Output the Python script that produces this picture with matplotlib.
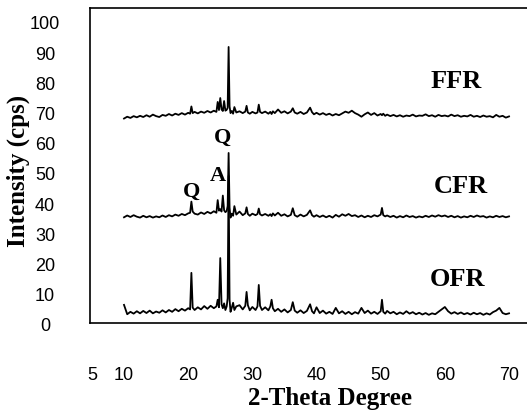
import matplotlib
matplotlib.use("Agg")
import matplotlib.pyplot as plt
import matplotlib.transforms as mtransforms

# 2-theta sampling (degrees), shared by the three patterns
two_theta = [
    10.0, 10.5, 11.0, 11.5, 12.0, 12.5, 13.0, 13.5, 14.0, 14.5, 15.0, 15.5, 16.0, 16.5,
    17.0, 17.5, 18.0, 18.5, 19.0, 19.5, 20.0,
    20.3, 20.5, 20.7, 21.0, 21.5, 22.0, 22.5, 23.0, 23.5, 24.0, 24.4, 24.6, 24.8, 25.0,
    25.2, 25.4, 25.6, 25.8, 26.0, 26.15, 26.3, 26.45, 26.6, 26.8, 27.0, 27.2, 27.5, 28.0,
    28.5, 28.9, 29.1, 29.3, 29.6, 30.0, 30.5, 30.8, 31.0, 31.2, 31.5, 32.0,
    32.5, 32.8, 33.0, 33.2, 33.5, 34.0, 34.5, 35.0, 35.5, 36.0, 36.3, 36.6, 37.0, 37.5,
    38.0, 38.5, 39.0, 39.3, 39.6, 40.0,
    40.5, 41.0, 41.5, 42.0, 42.5, 43.0, 43.5, 44.0, 44.5, 45.0, 45.5, 46.0, 46.5, 47.0,
    47.5, 48.0, 48.5, 49.0, 49.5, 50.0, 50.2, 50.4, 50.7,
    51.0, 51.5, 52.0, 52.5, 53.0, 53.5, 54.0, 54.5, 55.0, 55.5, 56.0, 56.5, 57.0, 57.5,
    58.0, 58.5, 59.0, 59.5, 60.0, 60.5, 61.0, 61.5, 62.0, 62.5, 63.0, 63.5, 64.0, 64.5,
    65.0, 65.5, 66.0, 66.5, 67.0, 67.5, 68.0, 68.5, 69.0, 69.5, 70.0,
]

# intensities (cps)
ffr = [
    69.0, 69.6, 69.2, 69.8, 69.4, 69.9, 69.5, 70.1, 69.6, 70.3, 69.8, 69.5, 70.2, 69.9,
    70.5, 70.0, 70.6, 70.2, 70.8, 70.3, 70.9,
    70.6, 73.0, 70.8, 71.2, 70.7, 71.3, 70.9, 71.5, 71.0, 71.6, 71.2, 74.5, 71.8, 75.8,
    72.0, 71.5, 74.8, 71.6, 71.9, 72.5, 92.7, 73.0, 70.8, 71.5, 70.6, 72.8, 71.0, 71.4,
    70.8, 71.3, 73.2, 71.0, 70.6, 71.2, 70.7, 71.0, 73.6, 71.2, 70.8, 71.3,
    70.6, 71.2, 70.5, 71.4, 70.8, 72.0, 70.9, 71.4, 70.7, 71.3, 72.4, 71.0, 70.6, 71.2,
    70.5, 71.0, 72.6, 71.1, 70.4, 70.9,
    70.3, 70.8, 70.2, 70.6, 70.0, 70.5, 70.1, 70.7, 71.3, 70.9, 71.6, 70.8, 70.3, 69.6,
    70.4, 71.0, 70.2, 70.8, 70.0, 70.5, 70.1, 70.6, 69.9,
    70.3, 69.8, 70.2, 69.7, 70.1, 69.6, 70.0, 69.8, 70.3, 69.7, 70.0, 69.9, 70.4, 69.8,
    70.1, 69.6, 70.2, 69.8, 70.0, 69.7, 70.3, 69.8, 70.1, 69.6, 69.9, 69.7, 70.2, 69.6,
    69.9, 69.5, 70.0, 69.6, 69.8, 69.4, 70.2, 69.6, 69.9, 69.3, 69.7,
]

cfr = [
    36.3, 36.9, 36.4, 37.0, 36.5, 36.2, 36.8, 36.3, 36.7, 36.2, 36.6, 36.3, 36.9, 36.4,
    37.0, 36.6, 37.2, 36.8, 37.4, 37.0, 37.6,
    37.8, 41.5, 38.2, 37.5, 37.2, 37.9, 37.4, 38.1, 37.6, 38.3, 37.8, 42.0, 38.5, 39.0,
    38.2, 43.5, 38.6, 38.0, 38.4, 40.0, 57.6, 39.5, 36.2, 37.5, 36.8, 40.0, 37.2, 38.2,
    37.0, 37.6, 39.6, 37.4, 36.8, 37.5, 37.0, 37.4, 39.2, 37.3, 36.9, 37.4,
    36.8, 37.3, 36.7, 37.6, 36.9, 37.8, 36.8, 37.3, 36.6, 37.1, 39.3, 37.0, 36.5, 37.2,
    36.6, 37.1, 38.6, 37.0, 36.5, 37.0,
    36.4, 36.9, 36.3, 36.8, 36.2, 37.1, 36.5, 37.3, 36.8, 37.4, 36.7, 37.0, 36.4, 36.9,
    36.3, 36.8, 36.4, 37.0, 36.6, 37.2, 39.4, 37.0, 36.6,
    36.9, 36.4, 36.8, 36.2, 36.7, 36.3, 36.9, 36.4, 36.7, 36.2, 36.6, 36.3, 36.8, 36.4,
    36.9, 36.5, 37.0, 36.6, 36.9, 36.4, 36.8, 36.3, 36.7, 36.2, 36.6, 36.3, 36.8, 36.4,
    36.9, 36.5, 36.7, 36.2, 36.6, 36.3, 36.8, 36.4, 36.7, 36.3, 36.6,
]

ofr = [
    7.3, 4.2, 5.0, 4.4, 5.2, 4.5, 5.3, 4.6, 5.4, 4.5, 5.1, 4.7, 5.5, 4.8,
    5.6, 5.0, 5.9, 5.2, 6.0, 5.4, 6.2,
    5.8, 17.9, 6.4, 5.6, 6.5, 5.8, 6.9, 6.0, 7.0, 6.2, 6.8, 9.0, 6.5, 22.8,
    7.5, 6.2, 7.8, 5.6, 6.8, 9.5, 50.0, 9.0, 5.0, 6.4, 8.0, 5.6, 6.8, 7.2,
    5.8, 7.0, 11.6, 7.2, 5.5, 6.6, 5.6, 6.8, 13.9, 7.0, 5.6, 6.5,
    5.5, 6.8, 9.0, 6.2, 5.2, 6.0, 5.0, 5.8, 4.8, 5.6, 8.2, 5.4, 4.7, 5.5,
    4.6, 5.3, 7.5, 5.2, 4.5, 6.5,
    4.6, 5.4, 4.4, 5.0, 4.3, 6.3, 4.5, 5.2, 4.3, 5.0, 4.2, 4.9, 4.4, 6.3,
    4.6, 5.4, 4.4, 5.0, 4.3, 5.2, 9.0, 5.0, 4.4,
    5.3, 4.5, 5.0, 4.2, 4.8, 4.3, 5.2, 4.4, 4.9, 4.2, 4.7, 4.1, 4.6, 4.0,
    4.5, 4.2, 5.0, 5.8, 6.6, 5.2, 4.4, 4.9, 4.3, 4.8, 4.2, 4.6, 4.1, 4.7,
    4.2, 4.6, 4.0, 4.5, 4.1, 4.9, 5.4, 6.3, 4.6, 4.2, 4.5,
]

x_ticks = [5, 10, 20, 30, 40, 50, 60, 70]
y_ticks = [0, 10, 20, 30, 40, 50, 60, 70, 80, 90, 100]
sample_names = ["FFR", "CFR", "OFR"]
peak_marks = ["Q", "A", "Q"]

assert len(two_theta) == len(ffr) == len(cfr) == len(ofr)

fig = plt.figure(figsize=(5.27, 4.17), dpi=100)
ax = fig.add_axes([90 / 527, 94 / 417, 437 / 527, 315 / 417])

for series in (ffr, cfr, ofr):
    ax.plot(two_theta, series, color="black", lw=1.3)

ax.set_xlim(4.7, 72.8)
ax.set_ylim(1.3, 105.6)
ax.set_xticks([])
ax.set_yticks([])
ax.spines["right"].set_visible(False)
for s in ("left", "top", "bottom"):
    ax.spines[s].set_linewidth(1.2)

tick_font = dict(family="Liberation Sans", fontsize=13)
# tick labels sit well away from the frame, as in the scan
ytrans = mtransforms.blended_transform_factory(ax.transAxes, ax.transData)
for v in y_ticks:
    ax.text(-45 / 437, v, str(v), transform=ytrans, ha="center", va="center",
            clip_on=False, **tick_font)
xtrans = mtransforms.blended_transform_factory(ax.transData, ax.transAxes)
for v in x_ticks:
    ax.text(v, -52 / 315, str(v), transform=xtrans, ha="center", va="center",
            clip_on=False, **tick_font)

serif_bold = dict(family="Liberation Serif", fontweight="bold")
fig.text(18 / 527, 1 - 171 / 417, "Intensity (cps)", rotation=90, ha="center",
         va="center", fontsize=18, **serif_bold)
fig.text(330 / 527, 1 - 398 / 417, "2-Theta Degree", ha="center", va="center",
         fontsize=18, **serif_bold)

# sample names
name_pos = [(61.7, 81.1), (62.5, 46.4), (62.0, 15.6)]
for name, (px, py) in zip(sample_names, name_pos):
    ax.text(px, py, name, ha="center", va="center", fontsize=19, **serif_bold)

# phase marks over the CFR peaks (Q = quartz, A = albite)
mark_pos = [(25.4, 62.6), (24.6, 50.0), (20.6, 44.7)]
for m, (px, py) in zip(peak_marks, mark_pos):
    ax.text(px, py, m, ha="center", va="center", fontsize=16, **serif_bold)

fig.savefig("out.png", dpi=100)
